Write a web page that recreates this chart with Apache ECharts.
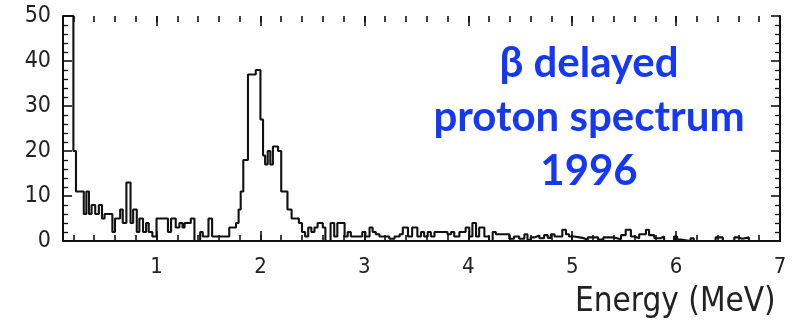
<!DOCTYPE html>
<html>
<head>
	<meta charset="utf-8">
	<title>beta delayed proton spectrum</title>
	<script src="https://cdn.jsdelivr.net/npm/echarts@6/dist/echarts.min.js"></script>
	<style type="text/css">
		*{margin:0;padding:0;}
		body{background:#fff;}
		#main{width:795px;height:327px;}
	</style>
</head>
<body>
	<div id="main"></div>
	<script type="text/javascript">
	// histogram: level changes (left bin edge, MeV) and counts
	var binEdges = [
		0.100, 0.200, 0.225, 0.300, 0.325, 0.350, 0.375, 0.410, 0.445, 0.475,
		0.500, 0.575, 0.600, 0.650, 0.675, 0.710, 0.750, 0.775, 0.810, 0.835,
		0.870, 0.900, 0.925, 0.960, 1.000, 1.110, 1.140, 1.185, 1.220, 1.250,
		1.270, 1.330, 1.365, 1.420, 1.445, 1.500, 1.535, 1.700, 1.765, 1.790,
		1.810, 1.835, 1.880, 1.955, 2.000, 2.025, 2.045, 2.070, 2.095, 2.120,
		2.170, 2.200, 2.260, 2.300, 2.370, 2.400, 2.430, 2.460, 2.490, 2.520,
		2.550, 2.600, 2.625, 2.675, 2.710, 2.740, 2.810, 2.840, 2.870, 2.980,
		3.010, 3.050, 3.080, 3.110, 3.145, 3.240, 3.290, 3.340, 3.370, 3.420,
		3.460, 3.510, 3.545, 3.575, 3.610, 3.640, 3.675, 3.800, 3.835, 3.865,
		3.915, 3.975, 4.010, 4.040, 4.075, 4.105, 4.155, 4.200, 4.235, 4.265,
		4.395, 4.440, 4.490, 4.540, 4.570, 4.600, 4.635, 4.685, 4.730, 4.765,
		4.795, 4.830, 4.905, 4.940, 4.970, 5.020, 5.100, 5.150, 5.250, 5.300,
		5.400, 5.470, 5.515, 5.565, 5.600, 5.645, 5.710, 5.740, 5.790, 5.850,
		5.885, 5.980, 6.010, 6.045, 6.140, 6.170, 6.380, 6.450, 6.560, 6.600,
		6.640, 6.700, 7.000
	];
	var counts = [
		50, 20, 11, 6, 11, 6, 8, 6, 8, 5,
		6, 2, 5, 7, 4, 13, 4, 7, 2, 5,
		2, 4, 2, 1, 5, 2, 5, 3, 4, 3,
		4, 5, 0, 2, 1, 5, 1, 3, 4, 7,
		11, 18, 37, 38, 27, 19, 17, 20, 17, 21,
		20, 11, 7, 5, 4, 2, 1, 3, 2, 3,
		4, 3, 0, 4, 1, 4, 1, 2, 1, 2,
		1, 3, 2, 1.5, 1, 0.5, 1, 1.5, 3, 1,
		3, 1, 2, 1, 2, 1, 2, 1.5, 2, 1,
		2, 3, 1, 4, 1, 3, 1, 0, 2, 1.5,
		0.5, 1, 0.5, 1.5, 0.2, 0.8, 1.2, 0.6, 1.3, 0.7,
		1.5, 1, 2.5, 1.5, 1, 0.7, 0.3, 0.8, 0.3, 0.8,
		0.4, 1.3, 2.5, 1, 0.6, 1.5, 2.5, 1.3, 0.6, 1,
		0, 1, 0.3, 0, 0.6, 0, 0.8, 0, 0.8, 0.5,
		0.8, 0, 0
	];
	var xRange = [0.1, 7];      // energy range of the frame
	var xMajorStart = 1, xMajorStep = 1;
	var xMinorStart = 0.2, xMinorStep = 0.2;
	var xName = 'Energy (MeV)';
	var noteLines = ['β delayed', 'proton spectrum', '1996'];

	var seriesData = binEdges.map(function (e, i) { return [e, counts[i]]; });

	var axisFont = '"Liberation Sans Narrow", "DejaVu Sans Condensed", sans-serif';
	var frameLine = { show: true, lineStyle: { color: '#111', width: 2 } };
	var plotLeft = 63, plotRight = 15, plotTop = 16, plotBottom = 86;
	var plotWidth = 795 - plotLeft - plotRight;

	// extra grids whose left edge sits at the first tick, so ticks can start there
	function tickGrid(start) {
		return {
			left: plotLeft + (start - xRange[0]) / (xRange[1] - xRange[0]) * plotWidth,
			right: plotRight, top: plotTop, bottom: plotBottom
		};
	}
	function tickAxis(grid, pos, start, step, len, withLabels) {
		return {
			type: 'value', gridIndex: grid, position: pos,
			min: start, max: xRange[1], interval: step,
			axisLine: { show: false },
			splitLine: { show: false },
			axisTick: { show: true, inside: true, length: len, lineStyle: { color: '#111', width: 1.6 } },
			axisLabel: withLabels ? {
				show: true, margin: 15, fontFamily: axisFont, fontSize: 22, color: '#222'
			} : { show: false }
		};
	}
	function yAxisDef(pos, withLabels) {
		return {
			type: 'value', gridIndex: 0, position: pos, min: 0, max: 50, interval: 10,
			axisLine: frameLine,
			splitLine: { show: false },
			axisTick: { show: true, inside: true, length: 9, lineStyle: { color: '#111', width: 1.6 } },
			minorTick: { show: true, splitNumber: 5, length: 5, lineStyle: { color: '#111', width: 1.3 } },
			axisLabel: withLabels ? {
				show: true, margin: 12, fontFamily: axisFont, fontSize: 23, color: '#222'
			} : { show: false }
		};
	}
	function hiddenY(grid) {
		return { type: 'value', gridIndex: grid, min: 0, max: 50, show: false };
	}
	function frameX(pos) {
		return {
			type: 'value', gridIndex: 0, position: pos, min: xRange[0], max: xRange[1],
			axisLine: frameLine, splitLine: { show: false },
			axisTick: { show: false }, axisLabel: { show: false }
		};
	}

	var myChart = echarts.init(document.getElementById('main'));
	var option = {
		animation: false,
		backgroundColor: '#fff',
		grid: [
			{ left: plotLeft, right: plotRight, top: plotTop, bottom: plotBottom },
			tickGrid(xMinorStart),
			tickGrid(xMajorStart)
		],
		xAxis: [
			frameX('bottom'),
			frameX('top'),
			tickAxis(1, 'bottom', xMinorStart, xMinorStep, 6, false),
			tickAxis(1, 'top', xMinorStart, xMinorStep, 6, false),
			tickAxis(2, 'bottom', xMajorStart, xMajorStep, 10, true),
			tickAxis(2, 'top', xMajorStart, xMajorStep, 10, false)
		],
		yAxis: [yAxisDef('left', true), yAxisDef('right', false), hiddenY(1), hiddenY(2)],
		series: [{
			type: 'line',
			step: 'end',
			xAxisIndex: 0,
			yAxisIndex: 0,
			data: seriesData,
			showSymbol: false,
			lineStyle: { color: '#111', width: 2.1 }
		}],
		graphic: [
			{
				type: 'text', left: 575, top: 286,
				style: { text: xName, fontFamily: axisFont, fontSize: 33, fill: '#222' }
			},
			{
				type: 'text', x: 589, y: 117,
				style: {
					text: noteLines.join('\n'), fontFamily: 'Lato, "Open Sans", sans-serif',
					fontWeight: 'bold', fontSize: 42, lineHeight: 54, fill: '#1438f5',
					align: 'center', verticalAlign: 'middle'
				}
			}
		]
	};
	myChart.setOption(option);
	</script>
</body>
</html>
